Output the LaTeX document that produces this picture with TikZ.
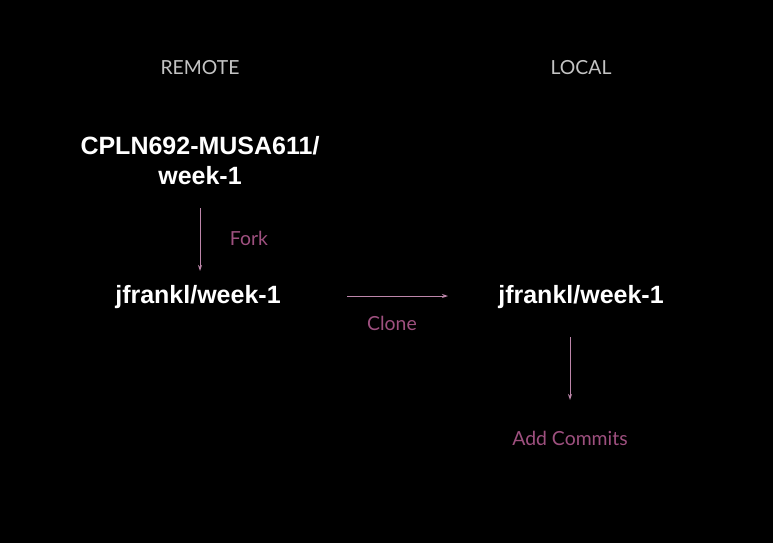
\documentclass[tikz,border=0pt]{standalone}
\usepackage{fontspec}
\setmainfont{Liberation Sans}
\newfontfamily\latofont{Lato}
\usetikzlibrary{arrows.meta}
\definecolor{hdrgray}{HTML}{C4C4C4}
\definecolor{lblpink}{HTML}{9E507F}
\definecolor{arrpink}{HTML}{BD86AA}
\tikzset{
  x=1pt, y=-1pt,
  header/.style={text=hdrgray, font=\latofont\fontsize{19.4}{23}\selectfont, inner sep=0pt},
  repo/.style={text=white, font=\bfseries\fontsize{25}{30}\selectfont, inner sep=0pt, align=center},
  lbl/.style={text=lblpink, font=\latofont\fontsize{19.4}{23}\selectfont, inner sep=0pt},
  conn/.style={draw=arrpink, line width=0.9pt, -{Stealth[length=6pt,width=4pt]}}
}
\begin{document}
\begin{tikzpicture}
\fill[black] (0,0) rectangle (773,543);
\useasboundingbox (0,0) rectangle (773,543);
\node[header] (remote) at (200,68) {REMOTE};
\node[header] (local) at (581,68) {LOCAL};
\node[repo] (upstream) at (200,161) {CPLN692-MUSA611/\\week-1};
\node[repo] (fork) at (198,297.5) {jfrankl/week-1};
\node[repo] (clone) at (581,297.5) {jfrankl/week-1};
\coordinate (f1) at (200,208);
\coordinate (f2) at (200,271);
\coordinate (c1) at (347,296);
\coordinate (c2) at (448,296);
\coordinate (a1) at (570,337);
\coordinate (a2) at (570,400);
\draw[conn] (f1) -- (f2);
\draw[conn] (c1) -- (c2);
\draw[conn] (a1) -- (a2);
\node[lbl] (forklbl) at (249,238.5) {Fork};
\node[lbl] (clonelbl) at (392,323.5) {Clone};
\node[lbl] (addlbl) at (570,438.5) {Add Commits};
\end{tikzpicture}
\end{document}
